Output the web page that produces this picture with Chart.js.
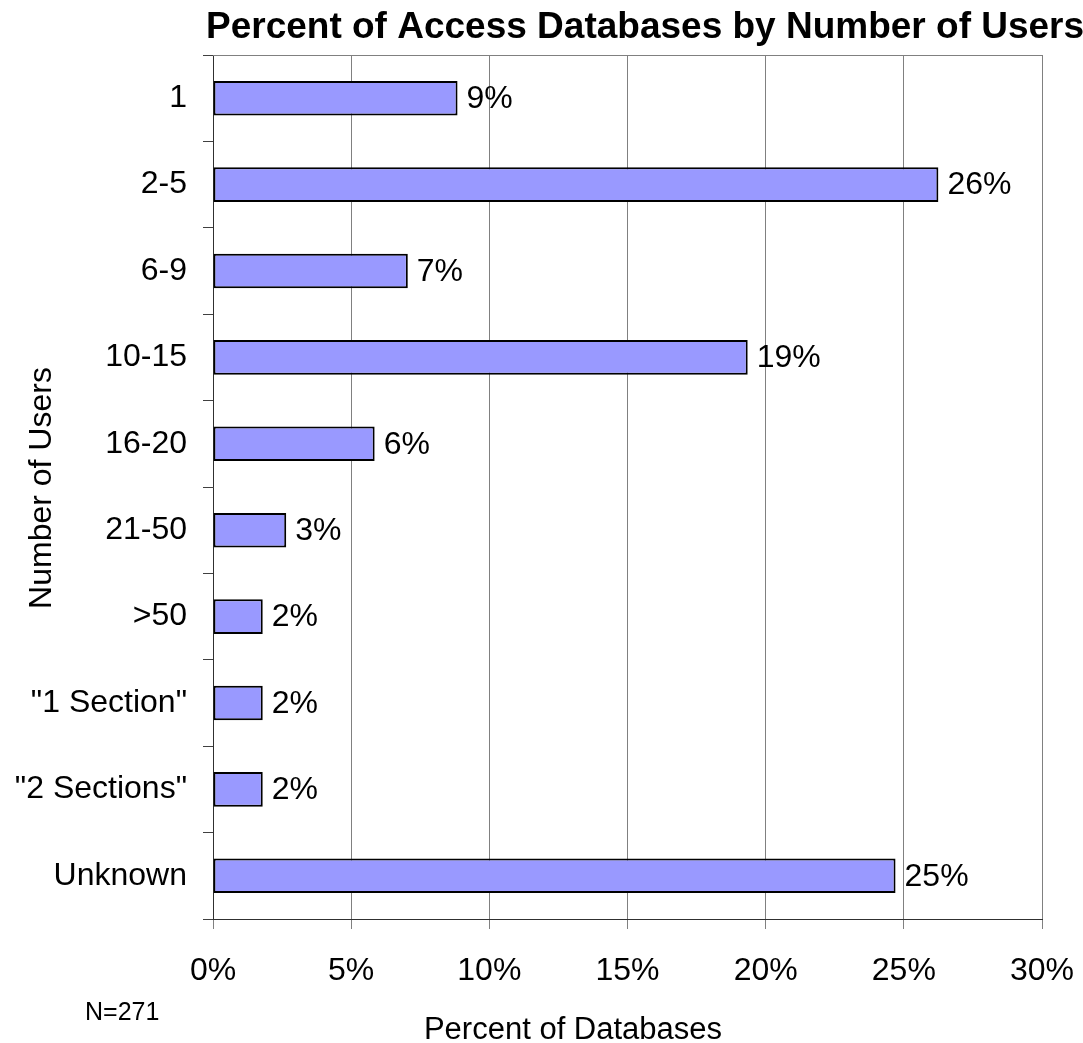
<!DOCTYPE html>
<html>
<head>
<meta charset="utf-8">
<script src="https://cdn.jsdelivr.net/npm/chart.js@4/dist/chart.umd.min.js"></script>
<style>
  html, body { margin: 0; padding: 0; background: #fff; }
  #wrap { width: 1083px; height: 1043px; position: relative; }
</style>
</head>
<body>
<div id="wrap"><canvas id="bar-chart-canvas"></canvas></div>
<script>
// data
const userGroups = ['1', '2-5', '6-9', '10-15', '16-20', '21-50', '>50', '"1 Section"', '"2 Sections"', 'Unknown'];
const percentDatabases = [8.85, 26.25, 7.05, 19.35, 5.85, 2.65, 1.8, 1.8, 1.8, 24.7];
const xTicks = [0, 5, 10, 15, 20, 25, 30];

const chartTitle = 'Percent of Access Databases by Number of Users';
const xTitle = 'Percent of Databases';
const yTitle = 'Number of Users';
const footNote = 'N=271';

const FONT = 'Arial, "Liberation Sans", sans-serif';

// free text, value labels and the top border line
const extrasPlugin = {
    id: 'extras',
    afterDatasetsDraw(chart) {
        const ctx = chart.ctx;
        const area = chart.chartArea;
        ctx.save();
        ctx.strokeStyle = '#808080';
        ctx.lineWidth = 1;
        ctx.beginPath();
        ctx.moveTo(area.left, Math.round(area.top) + 0.5);
        ctx.lineTo(area.right, Math.round(area.top) + 0.5);
        ctx.stroke();

        ctx.fillStyle = '#000';
        ctx.font = '32px ' + FONT;
        ctx.textAlign = 'left';
        ctx.textBaseline = 'middle';
        chart.getDatasetMeta(0).data.forEach((bar, i) => {
            ctx.fillText(Math.round(percentDatabases[i]) + '%', bar.x + 9, bar.y + 1);
        });
        ctx.restore();
    },
    afterDraw(chart) {
        const ctx = chart.ctx;
        ctx.save();
        ctx.fillStyle = '#000';
        ctx.textBaseline = 'alphabetic';
        ctx.textAlign = 'left';
        ctx.font = 'bold 37px ' + FONT;
        ctx.fillText(chartTitle, 206, 38);

        ctx.font = '31px ' + FONT;
        ctx.textAlign = 'center';
        ctx.fillText(xTitle, 573, 1039);

        ctx.font = '25px ' + FONT;
        ctx.textAlign = 'left';
        ctx.fillText(footNote, 85, 1020);

        ctx.translate(42, 488);
        ctx.rotate(-Math.PI / 2);
        ctx.textAlign = 'center';
        ctx.textBaseline = 'middle';
        ctx.font = '32px ' + FONT;
        ctx.fillText(yTitle, 0, 0);
        ctx.restore();
    }
};

function initializeBarChart() {
    const context = document.getElementById('bar-chart-canvas');
    const data = {
        labels: userGroups,
        datasets: [
            {
                label: 'Percent of Databases',
                backgroundColor: '#9999FF',
                borderColor: '#000000',
                borderWidth: 2,
                borderSkipped: false,
                barPercentage: 0.4,
                categoryPercentage: 1.0,
                data: percentDatabases
            }
        ]
    };
    new Chart(context, {
        type: 'bar',
        data: data,
        plugins: [extrasPlugin],
        options: {
            indexAxis: 'y',
            responsive: true,
            maintainAspectRatio: false,
            animation: false,
            layout: { padding: { top: 55, right: 0, left: 0, bottom: 0 } },
            plugins: {
                legend: { display: false },
                title: { display: false },
                tooltip: { enabled: false }
            },
            scales: {
                x: {
                    min: 0,
                    max: 30,
                    afterBuildTicks: (axis) => { axis.ticks = xTicks.map(v => ({ value: v })); },
                    afterFit: (axis) => {
                        axis.height = 124;
                        axis.paddingLeft = 0;
                        axis.paddingRight = 41;
                    },
                    grid: { color: '#808080', lineWidth: 1, tickLength: 10, drawTicks: true },
                    border: { color: '#303030', width: 1 },
                    ticks: {
                        color: '#000',
                        font: { family: FONT, size: 32 },
                        padding: 23,
                        maxRotation: 0,
                        callback: (v) => v + '%'
                    }
                },
                y: {
                    offset: true,
                    afterFit: (axis) => { axis.width = 213; },
                    grid: { offset: true, drawOnChartArea: false, color: '#404040', tickLength: 10 },
                    border: { color: '#303030', width: 1 },
                    ticks: {
                        color: '#000',
                        font: { family: FONT, size: 32 },
                        padding: 16
                    }
                }
            }
        }
    });
}
initializeBarChart();
</script>
</body>
</html>
